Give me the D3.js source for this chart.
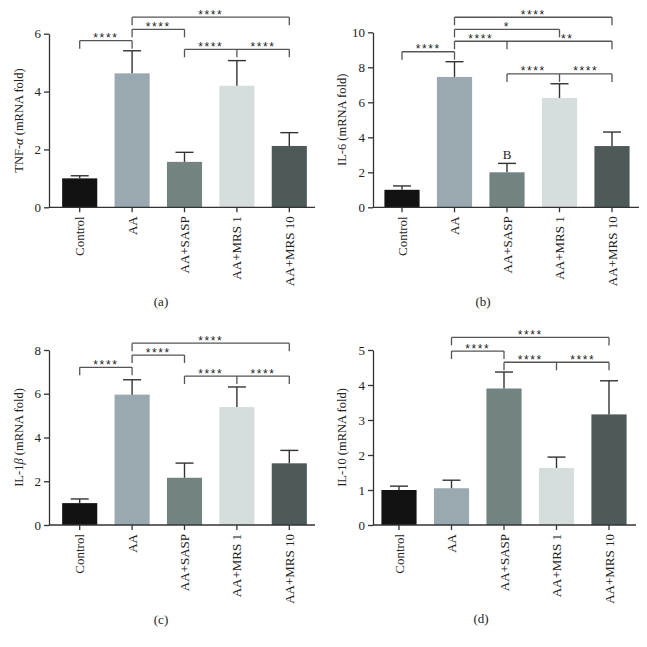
<!DOCTYPE html>
<html><head><meta charset="utf-8">
<script src="https://cdn.jsdelivr.net/npm/d3@7/dist/d3.min.js"></script>
<style>
body{margin:0;background:#fff;}
text{font-family:"Liberation Serif","Times New Roman",serif;fill:#222;}
</style></head>
<body><svg id="c" width="647" height="647"></svg>
<script>
// ---------- data ----------
const categories = ["Control","AA","AA+SASP","AA+MRS 1","AA+MRS 10"];
const barColors = ["#121212","#9aa9b0","#738381","#d6dedd","#4e5a5a"];

const tnfMeans = [1.0, 4.63, 1.57, 4.20, 2.12];
const tnfSD    = [0.09, 0.78, 0.33, 0.87, 0.46];
const tnfTicks = [0, 2, 4, 6];

const il6Means = [1.0, 7.45, 2.0, 6.25, 3.5];
const il6SD    = [0.22, 0.87, 0.51, 0.81, 0.80];
const il6Ticks = [0, 2, 4, 6, 8, 10];

const il1bMeans = [1.0, 5.96, 2.16, 5.39, 2.82];
const il1bSD    = [0.19, 0.68, 0.67, 0.92, 0.59];
const il1bTicks = [0, 2, 4, 6, 8];

const il10Means = [1.0, 1.05, 3.90, 1.63, 3.16];
const il10SD    = [0.11, 0.23, 0.47, 0.31, 0.96];
const il10Ticks = [0, 1, 2, 3, 4, 5];

// significance brackets: legs (category indices), y (data units), labels [text, position]
const tnfBrackets = [
  {legs:[0,1], y:5.76, labels:[["****",0.5]]},
  {legs:[1,2], y:6.15, labels:[["****",1.5]]},
  {legs:[1,4], y:6.57, labels:[["****",2.5]]},
  {legs:[2,3,4], y:5.46, labels:[["****",2.5],["****",3.5]]}
];
const il6Brackets = [
  {legs:[0,1], y:8.89, labels:[["****",0.5]]},
  {legs:[1,4], y:10.86, labels:[["****",2.5]]},
  {legs:[1,3], y:10.17, labels:[["*",2]]},
  {legs:[1,2,4], y:9.49, labels:[["****",1.5],["**",3.15]]},
  {legs:[2,3,4], y:7.62, labels:[["****",2.5],["****",3.5]]}
];
const il1bBrackets = [
  {legs:[0,1], y:7.21, labels:[["****",0.5]]},
  {legs:[1,2], y:7.77, labels:[["****",1.5]]},
  {legs:[1,4], y:8.31, labels:[["****",2.5]]},
  {legs:[2,3,4], y:6.81, labels:[["****",2.5],["****",3.5]]}
];
const il10Brackets = [
  {legs:[1,2], y:4.97, labels:[["****",1.5]]},
  {legs:[1,4], y:5.36, labels:[["****",2.5]]},
  {legs:[2,3,4], y:4.65, labels:[["****",2.5],["****",3.5]]}
];
const il6Extra = [{text:"B", at:2}];

// ---------- panels ----------
const panels = [
  {means:tnfMeans, sds:tnfSD, ticks:tnfTicks, brackets:tnfBrackets, extra:[],
   title:[["TNF-",false],["α",true],[" (mRNA fold)",false]], caption:"(a)",
   axisX:49, x0:53.5, x1:315.5, xEnd:315, yTop:33.7, yBase:207.3, titleX:19, capX:161, capY:306},
  {means:il6Means, sds:il6SD, ticks:il6Ticks, brackets:il6Brackets, extra:il6Extra,
   title:[["IL-6 (mRNA fold)",false]], caption:"(b)",
   axisX:373, x0:375.75, x1:638.25, xEnd:639, yTop:32.3, yBase:207.3, titleX:342, capX:483, capY:306},
  {means:il1bMeans, sds:il1bSD, ticks:il1bTicks, brackets:il1bBrackets, extra:[],
   title:[["IL-1",false],["β",true],[" (mRNA fold)",false]], caption:"(c)",
   axisX:49, x0:53.5, x1:315.5, xEnd:315, yTop:350, yBase:525, titleX:19, capX:161, capY:624},
  {means:il10Means, sds:il10SD, ticks:il10Ticks, brackets:il10Brackets, extra:[],
   title:[["IL-10 (mRNA fold)",false]], caption:"(d)",
   axisX:373, x0:372.75, x1:635.25, xEnd:636, yTop:350, yBase:525, titleX:342, capX:481, capY:623}
];

const svg = d3.select("#c");
svg.append("rect").attr("width",647).attr("height",647).attr("fill","#fff");

panels.forEach(p => {
  const g = svg.append("g");
  const tMax = p.ticks[p.ticks.length-1];
  const y = d3.scaleLinear().domain([0,tMax]).range([p.yBase,p.yTop]);
  const x = d3.scaleBand().domain(categories).range([p.x0,p.x1]).paddingInner(0.33).paddingOuter(0.165);
  const step = x.step();
  const cx = i => x(categories[0]) + x.bandwidth()/2 + i*step;

  // bars
  g.selectAll("rect.bar").data(categories).join("rect")
    .attr("x", d => x(d)).attr("width", x.bandwidth())
    .attr("y", (d,i) => y(p.means[i])).attr("height", (d,i) => p.yBase - y(p.means[i]))
    .attr("fill", (d,i) => barColors[i]);

  // error bars
  const eb = g.selectAll("g.eb").data(categories).join("g");
  eb.append("line")
    .attr("x1",(d,i)=>cx(i)).attr("x2",(d,i)=>cx(i))
    .attr("y1",(d,i)=>y(p.means[i])).attr("y2",(d,i)=>y(p.means[i]+p.sds[i]))
    .attr("stroke","#333").attr("stroke-width",1.4);
  eb.append("line")
    .attr("x1",(d,i)=>cx(i)-9).attr("x2",(d,i)=>cx(i)+9)
    .attr("y1",(d,i)=>y(p.means[i]+p.sds[i])).attr("y2",(d,i)=>y(p.means[i]+p.sds[i]))
    .attr("stroke","#333").attr("stroke-width",1.4);

  // y axis
  const ya = g.append("g").attr("transform",`translate(${p.axisX},0)`)
    .call(d3.axisLeft(y).tickValues(p.ticks).tickFormat(d3.format("d"))
      .tickSize(5).tickSizeOuter(0).tickPadding(3));
  ya.selectAll("path,line").attr("stroke","#333").attr("stroke-width",1.3);
  ya.selectAll("text").style("font-family",'"Liberation Serif",serif').style("font-size","13px").attr("fill","#222");

  // x axis
  const xa = g.append("g").attr("transform",`translate(0,${p.yBase})`)
    .call(d3.axisBottom(x).tickSize(5).tickSizeOuter(0));
  xa.select(".domain").remove();
  xa.selectAll("line").attr("stroke","#333").attr("stroke-width",1.3);
  xa.selectAll("text").remove();
  g.append("line").attr("x1",p.axisX).attr("x2",p.xEnd).attr("y1",p.yBase).attr("y2",p.yBase)
    .attr("stroke","#333").attr("stroke-width",1.3);
  g.selectAll("text.cat").data(categories).join("text")
    .attr("transform",(d,i)=>`translate(${cx(i)},${p.yBase+9}) rotate(-90)`)
    .attr("text-anchor","end").attr("dy","0.35em")
    .style("font-size","13px").text(d=>d);

  // y title
  const t = g.append("text")
    .attr("transform",`translate(${p.titleX},${(p.yTop+p.yBase)/2}) rotate(-90)`)
    .attr("text-anchor","middle").attr("dy","0.35em").style("font-size","12.5px");
  p.title.forEach(([s,it]) => t.append("tspan").text(s).style("font-style", it?"italic":"normal"));

  // caption
  g.append("text").attr("x",p.capX).attr("y",p.capY).attr("text-anchor","middle")
    .style("font-size","13px").text(p.caption);

  // brackets
  p.brackets.forEach(b => {
    const yl = y(b.y);
    const xs = b.legs.map(cx);
    g.append("line").attr("x1",xs[0]).attr("x2",xs[xs.length-1]).attr("y1",yl).attr("y2",yl)
      .attr("stroke","#555").attr("stroke-width",1.3);
    xs.forEach(xx => g.append("line").attr("x1",xx).attr("x2",xx).attr("y1",yl).attr("y2",yl+8)
      .attr("stroke","#555").attr("stroke-width",1.3));
    b.labels.forEach(([txt,pos]) => {
      g.append("text").attr("x",cx(pos)).attr("y",yl+1.5).attr("text-anchor","middle")
        .style("font-family",'"Liberation Sans",Arial,sans-serif').style("font-size","12px")
        .style("letter-spacing","1.6px").attr("fill","#777").text(txt);
    });
  });

  p.extra.forEach(e => {
    g.append("text").attr("x",cx(e.at)).attr("y",y(p.means[e.at]+p.sds[e.at])-4)
      .attr("text-anchor","middle").style("font-size","13px").text(e.text);
  });
});
</script></body></html>
